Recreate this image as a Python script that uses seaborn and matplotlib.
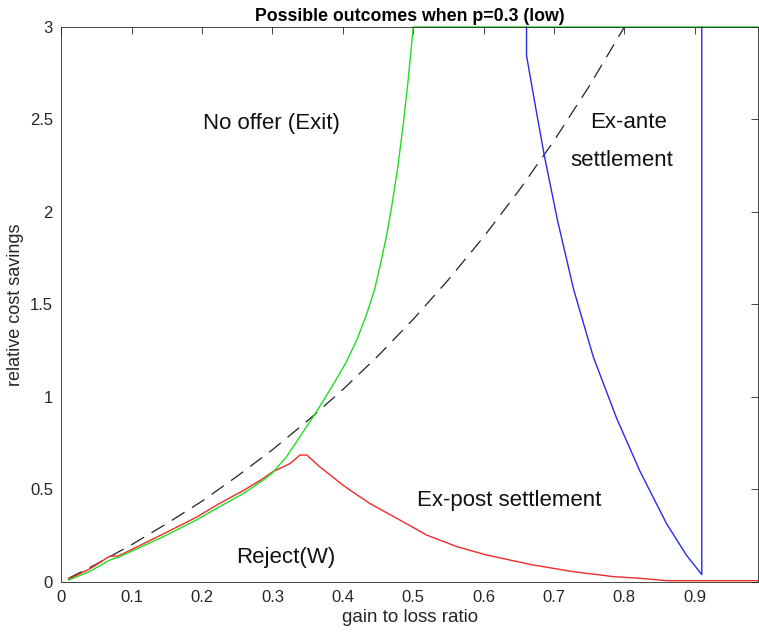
import matplotlib
matplotlib.use("Agg")
import matplotlib.pyplot as plt
import seaborn as sns

# ---- data ----
dash_x = [0.01, 0.05, 0.10, 0.15, 0.20, 0.25, 0.30, 0.35, 0.40, 0.45, 0.50,
          0.55, 0.60, 0.65, 0.70, 0.75, 0.80]
dash_y = [0.019, 0.097, 0.202, 0.316, 0.437, 0.572, 0.715, 0.872, 1.04, 1.222,
          1.42, 1.634, 1.865, 2.115, 2.385, 2.68, 3.0]

green_x = [0.01, 0.04, 0.069, 0.083, 0.145, 0.192, 0.225, 0.259, 0.287, 0.30,
           0.32, 0.339, 0.358, 0.367, 0.386, 0.405, 0.42, 0.434, 0.445, 0.453,
           0.462, 0.469, 0.478, 0.486, 0.493, 0.50, 0.99]
green_y = [0.01, 0.056, 0.119, 0.137, 0.245, 0.335, 0.407, 0.479, 0.551, 0.59,
           0.677, 0.785, 0.894, 0.948, 1.065, 1.19, 1.31, 1.45, 1.58, 1.71,
           1.87, 2.02, 2.24, 2.48, 2.72, 3.0, 3.0]

red_x = [0.01, 0.04, 0.069, 0.081, 0.145, 0.192, 0.225, 0.259, 0.287, 0.30,
         0.325, 0.339, 0.349, 0.367, 0.40, 0.41, 0.438, 0.481, 0.519, 0.562,
         0.604, 0.67, 0.727, 0.784, 0.822, 0.86, 0.99]
red_y = [0.015, 0.07, 0.14, 0.14, 0.26, 0.35, 0.425, 0.495, 0.56, 0.595,
         0.64, 0.686, 0.686, 0.623, 0.524, 0.497, 0.425, 0.335, 0.254, 0.191,
         0.146, 0.092, 0.056, 0.029, 0.02, 0.007, 0.007]

blue_x = [0.661, 0.661, 0.673, 0.686, 0.705, 0.728, 0.756, 0.789, 0.822,
          0.860, 0.888, 0.910, 0.910]
blue_y = [3.0, 2.845, 2.585, 2.31, 1.955, 1.58, 1.215, 0.885, 0.600,
          0.315, 0.146, 0.04, 3.0]

x_ticks = [0, 0.1, 0.2, 0.3, 0.4, 0.5, 0.6, 0.7, 0.8, 0.9]
x_tick_labels = ["0", "0.1", "0.2", "0.3", "0.4", "0.5", "0.6", "0.7", "0.8", "0.9"]
y_ticks = [0, 0.5, 1, 1.5, 2, 2.5, 3]
y_tick_labels = ["0", "0.5", "1", "1.5", "2", "2.5", "3"]

labels = [
    ("No offer (Exit)", 0.299, 2.48),
    ("Ex-ante", 0.806, 2.486),
    ("settlement", 0.796, 2.28),
    ("Ex-post settlement", 0.636, 0.441),
    ("Reject(W)", 0.319, 0.135),
]

# ---- figure ----
sns.set_style("white")
plt.rcParams["font.family"] = ["Liberation Sans", "DejaVu Sans"]

fig = plt.figure(figsize=(7.59, 6.35), dpi=100)
ax = fig.add_axes([0.0808, 0.0835, 0.918, 0.874])

common = dict(ax=ax, sort=False, estimator=None, legend=False)
sns.lineplot(x=dash_x, y=dash_y, color="#222222", linewidth=0.9, **common)
ax.lines[-1].set_dashes([12, 7])
sns.lineplot(x=red_x, y=red_y, color="#ee2a2a", linewidth=1.0, **common)
sns.lineplot(x=green_x, y=green_y, color="#22dd22", linewidth=1.0, **common)
sns.lineplot(x=blue_x, y=blue_y, color="#2a2ae8", linewidth=1.0, **common)
for ln in ax.lines:
    ln.set_clip_on(False)

ax.set_xlim(0, 0.99)
ax.set_ylim(0, 3)
ax.set_xticks(x_ticks)
ax.set_xticklabels(x_tick_labels)
ax.set_yticks(y_ticks)
ax.set_yticklabels(y_tick_labels)
ax.tick_params(direction="in", length=5, width=0.6, colors="#262626",
               labelsize=12, top=True, right=True, pad=6)
for lab in ax.get_xticklabels() + ax.get_yticklabels():
    lab.set_color("#262626")
for sp in ax.spines.values():
    sp.set_visible(True)
    sp.set_color("#262626")
    sp.set_linewidth(0.6)

ax.set_xlabel("gain to loss ratio", fontsize=13.5, color="#262626", labelpad=3)
ax.set_ylabel("relative cost savings", fontsize=13, color="#262626", labelpad=4)
ax.set_title("Possible outcomes when p=0.3 (low)", fontsize=12.8,
             fontweight="bold", color="black", pad=4)

for txt, x, y in labels:
    ax.text(x, y, txt, fontsize=16, ha="center", va="center", color="#111111")

fig.savefig("out.png", dpi=100)
